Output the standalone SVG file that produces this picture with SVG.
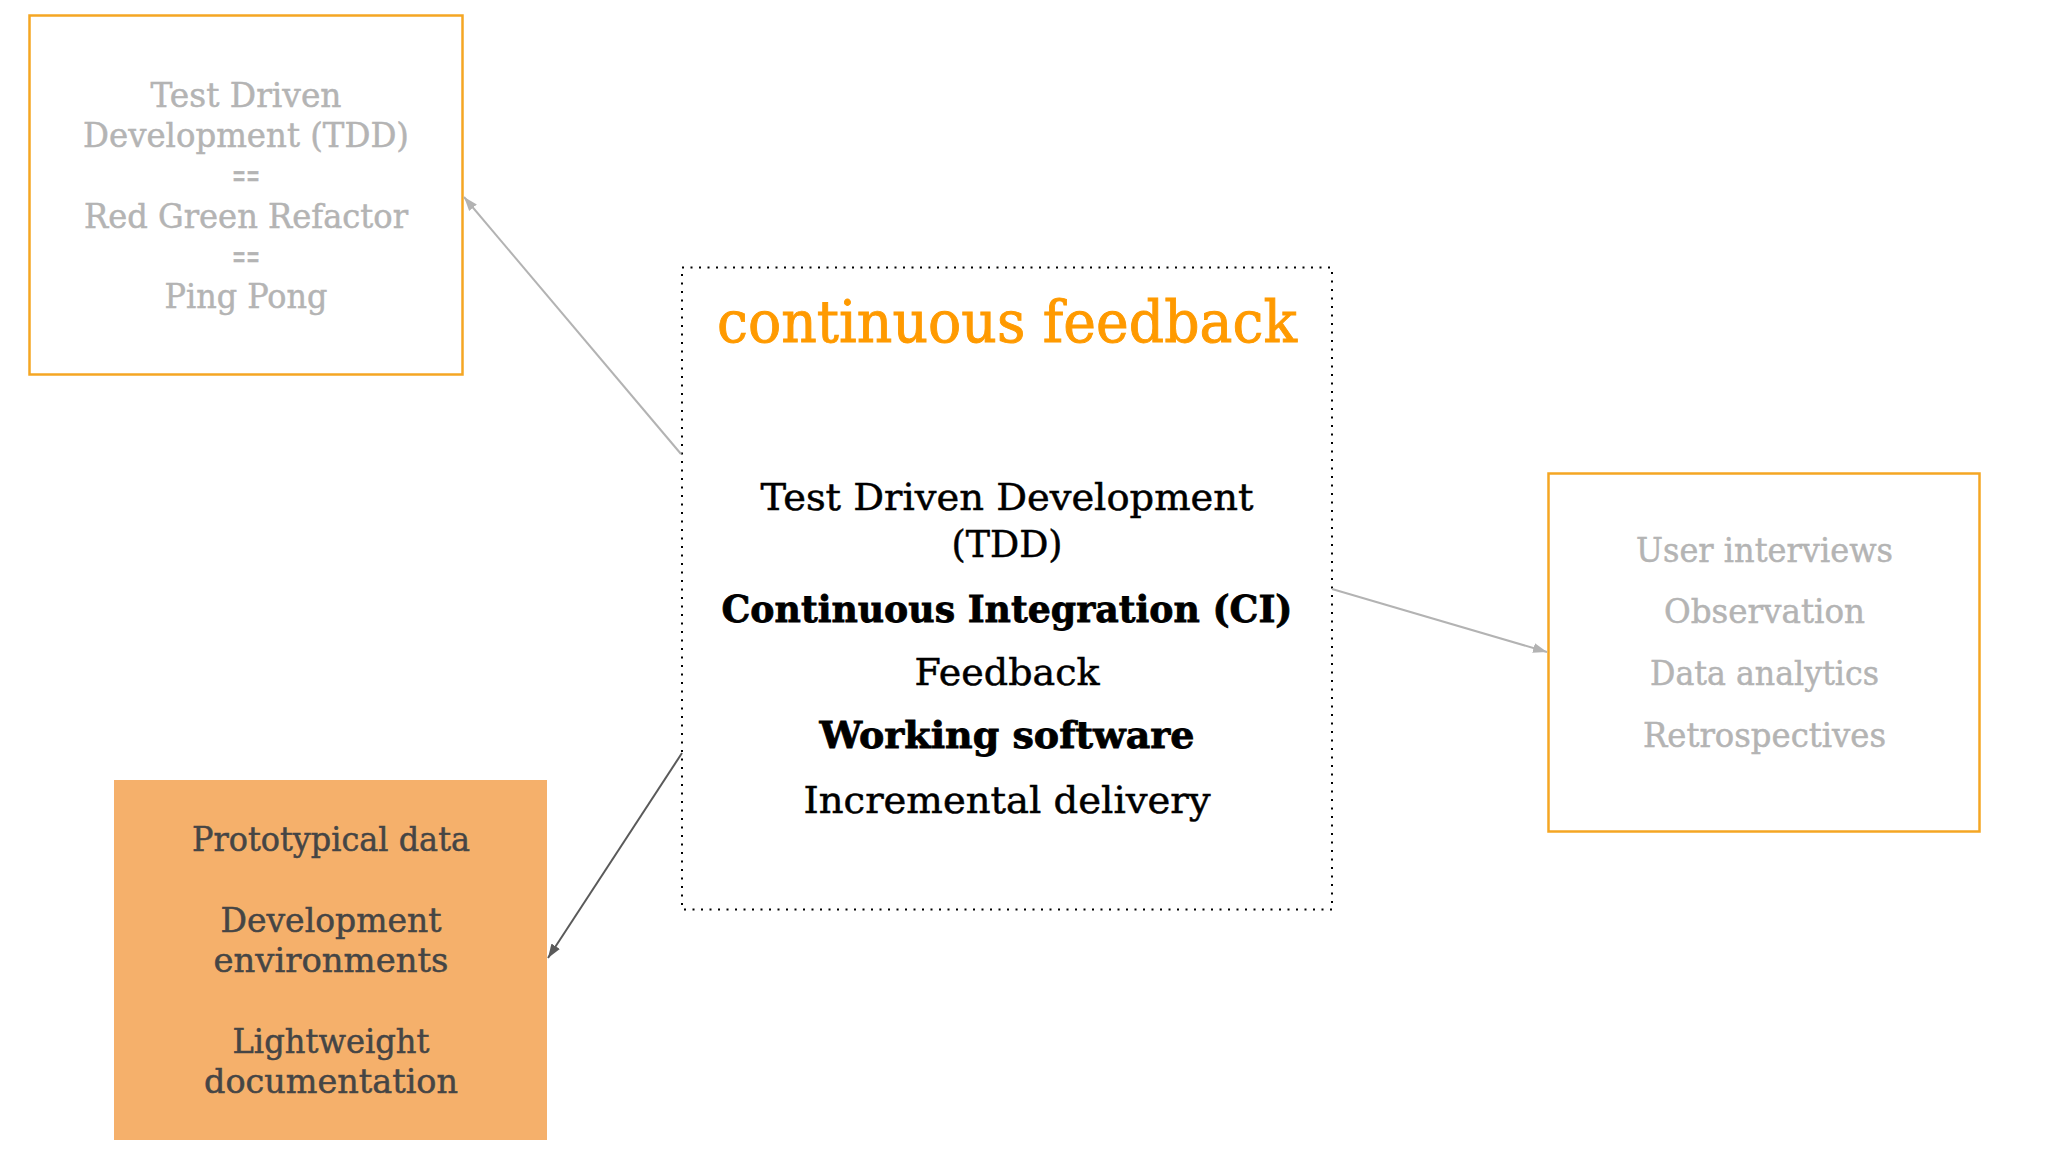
<svg xmlns="http://www.w3.org/2000/svg" width="2048" height="1152" viewBox="0 0 2048 1152">
  <style>
    .t { font-family: "DejaVu Serif", "Liberation Serif", serif; text-anchor: middle; }
    .grey { fill: #b4b4b4; stroke: #b4b4b4; stroke-width: 0.5; font-size: 34px; }
    .dark { fill: #454545; stroke: #454545; stroke-width: 0.5; font-size: 33px; }
    .main { fill: #000000; stroke: #000000; stroke-width: 0.5; font-size: 37px; }
    .bold { font-weight: bold; stroke-width: 0.8; }
    .title { fill: #ff9a00; stroke: #ff9a00; stroke-width: 0.9; font-size: 57px; }
    .obox { fill: #ffffff; stroke: #f5a623; stroke-width: 2.5; }
    .fbox { fill: #f5b06b; stroke: none; }
    .dbox { fill: none; stroke: #000000; stroke-width: 2; stroke-dasharray: 2 6.5; }
    .edge-light { stroke: #b3b3b3; stroke-width: 2; fill: none; }
    .edge-dark { stroke: #5a5a5a; stroke-width: 2; fill: none; }
  </style>
  <defs>
    <marker id="arrLight" markerUnits="userSpaceOnUse" markerWidth="15" markerHeight="11" refX="14" refY="5.5" orient="auto">
      <path d="M0,0.5 L14,5.5 L0,10.5 z" fill="#b3b3b3"/>
    </marker>
    <marker id="arrDark" markerUnits="userSpaceOnUse" markerWidth="15" markerHeight="11" refX="14" refY="5.5" orient="auto">
      <path d="M0,0.5 L14,5.5 L0,10.5 z" fill="#5a5a5a"/>
    </marker>
  </defs>
  <rect x="0" y="0" width="2048" height="1152" fill="#ffffff"/>

  <g id="node-tdd">
    <rect class="obox" x="29.5" y="15.5" width="433" height="359"/>
    <text class="t grey" x="246" y="107" textLength="191" lengthAdjust="spacingAndGlyphs">Test Driven</text>
    <text class="t grey" x="246" y="147" textLength="326" lengthAdjust="spacingAndGlyphs">Development (TDD)</text>
    <text class="t grey" x="246" y="187" textLength="28" lengthAdjust="spacingAndGlyphs">==</text>
    <text class="t grey" x="246" y="228" textLength="324" lengthAdjust="spacingAndGlyphs">Red Green Refactor</text>
    <text class="t grey" x="246" y="268" textLength="28" lengthAdjust="spacingAndGlyphs">==</text>
    <text class="t grey" x="246" y="308" textLength="163" lengthAdjust="spacingAndGlyphs">Ping Pong</text>
  </g>

  <g id="node-center">
    <rect class="dbox" x="682" y="267.5" width="650" height="642"/>
    <text class="t title" x="1007" y="342" textLength="580" lengthAdjust="spacingAndGlyphs">continuous feedback</text>
    <text class="t main" x="1007" y="510" textLength="493" lengthAdjust="spacingAndGlyphs">Test Driven Development</text>
    <text class="t main" x="1007" y="557" textLength="111" lengthAdjust="spacingAndGlyphs">(TDD)</text>
    <text class="t main bold" x="1007" y="622" textLength="571" lengthAdjust="spacingAndGlyphs">Continuous Integration (CI)</text>
    <text class="t main" x="1007" y="685" textLength="185" lengthAdjust="spacingAndGlyphs">Feedback</text>
    <text class="t main bold" x="1007" y="748" textLength="375" lengthAdjust="spacingAndGlyphs">Working software</text>
    <text class="t main" x="1007" y="813" textLength="407" lengthAdjust="spacingAndGlyphs">Incremental delivery</text>
  </g>

  <g id="node-research">
    <rect class="obox" x="1548.5" y="473.5" width="431" height="358"/>
    <text class="t grey" x="1764.5" y="562" textLength="257" lengthAdjust="spacingAndGlyphs">User interviews</text>
    <text class="t grey" x="1764.5" y="623" textLength="201" lengthAdjust="spacingAndGlyphs">Observation</text>
    <text class="t grey" x="1764.5" y="685" textLength="229" lengthAdjust="spacingAndGlyphs">Data analytics</text>
    <text class="t grey" x="1764.5" y="747" textLength="243" lengthAdjust="spacingAndGlyphs">Retrospectives</text>
  </g>

  <g id="node-prototype">
    <rect class="fbox" x="114" y="780" width="433" height="360"/>
    <text class="t dark" x="331" y="851" textLength="278" lengthAdjust="spacingAndGlyphs">Prototypical data</text>
    <text class="t dark" x="331" y="932" textLength="221" lengthAdjust="spacingAndGlyphs">Development</text>
    <text class="t dark" x="331" y="972" textLength="235" lengthAdjust="spacingAndGlyphs">environments</text>
    <text class="t dark" x="331" y="1053" textLength="197" lengthAdjust="spacingAndGlyphs">Lightweight</text>
    <text class="t dark" x="331" y="1093" textLength="254" lengthAdjust="spacingAndGlyphs">documentation</text>
  </g>

  <g id="connectors">
    <line class="edge-light" x1="681" y1="454" x2="464" y2="197" marker-end="url(#arrLight)"/>
    <line class="edge-light" x1="1332" y1="589" x2="1547" y2="652" marker-end="url(#arrLight)"/>
    <line class="edge-dark" x1="682" y1="753" x2="548" y2="958" marker-end="url(#arrDark)"/>
  </g>
</svg>
